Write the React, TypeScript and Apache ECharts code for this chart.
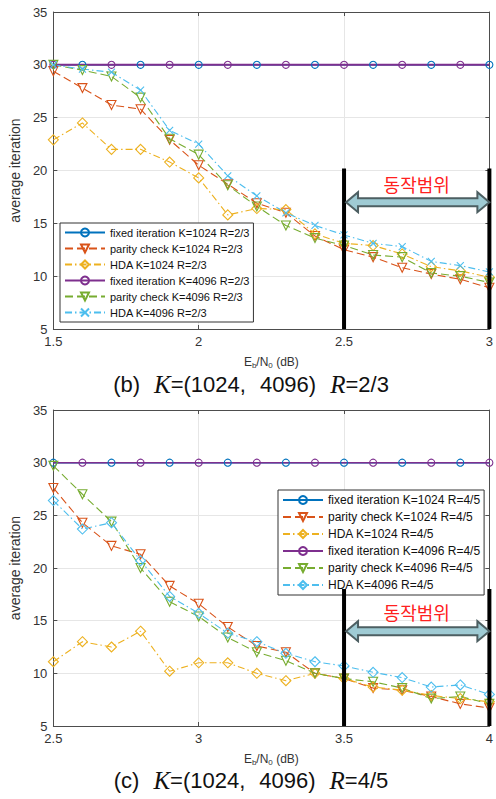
import React, { useEffect, useRef } from 'react';
import * as echarts from 'echarts';

// ---------- data ----------
const xTop = [1.5, 1.6, 1.7, 1.8, 1.9, 2.0, 2.1, 2.2, 2.3, 2.4, 2.5, 2.6, 2.7, 2.8, 2.9, 3.0];
const fixed1024Top = [30, 30, 30, 30, 30, 30, 30, 30, 30, 30, 30, 30, 30, 30, 30, 30];
const parity1024Top = [29.4, 27.8, 26.2, 25.8, 22.9, 20.5, 18.7, 16.9, 16.0, 13.8, 12.5, 11.8, 10.8, 10.2, 9.7, 8.9];
const hda1024Top = [22.9, 24.5, 22.0, 22.0, 20.8, 19.3, 15.8, 16.4, 16.3, 14.0, 13.1, 12.9, 12.1, 10.9, 10.5, 9.9];
const fixed4096Top = [30, 30, 30, 30, 30, 30, 30, 30, 30, 30, 30, 30, 30, 30, 30, 30];
const parity4096Top = [30.0, 29.5, 28.9, 26.9, 23.0, 21.5, 18.6, 16.6, 14.8, 13.6, 12.9, 12.0, 11.8, 10.3, 10.0, 9.4];
const hda4096Top = [30.0, 29.6, 29.3, 27.6, 23.8, 22.5, 19.5, 17.6, 16.0, 14.8, 13.9, 13.1, 12.8, 11.4, 11.0, 10.4];

const xBot = [2.5, 2.6, 2.7, 2.8, 2.9, 3.0, 3.1, 3.2, 3.3, 3.4, 3.5, 3.6, 3.7, 3.8, 3.9, 4.0];
const fixed1024Bot = [30, 30, 30, 30, 30, 30, 30, 30, 30, 30, 30, 30, 30, 30, 30, 30];
const parity1024Bot = [27.6, 24.3, 22.1, 21.3, 18.3, 16.6, 14.4, 12.6, 12.0, 10.0, 9.5, 8.6, 8.4, 7.8, 7.1, 6.7];
const hda1024Bot = [11.1, 13.0, 12.5, 14.0, 10.2, 11.0, 11.0, 10.0, 9.3, 10.0, 9.5, 8.7, 8.4, 7.9, 7.6, 7.3];
const fixed4096Bot = [30, 30, 30, 30, 30, 30, 30, 30, 30, 30, 30, 30, 30, 30, 30, 30];
const parity4096Bot = [29.7, 27.0, 24.4, 20.0, 16.8, 15.4, 13.4, 12.0, 11.2, 10.0, 9.5, 9.2, 8.6, 7.6, 7.8, 7.1];
const hda4096Bot = [26.4, 23.7, 24.3, 20.7, 17.3, 15.7, 13.8, 13.0, 11.9, 11.1, 10.7, 10.1, 9.6, 8.7, 8.9, 8.0];

const namesTop = [
  'fixed iteration K=1024 R=2/3',
  'parity check K=1024 R=2/3',
  'HDA K=1024 R=2/3',
  'fixed iteration K=4096 R=2/3',
  'parity check K=4096 R=2/3',
  'HDA K=4096 R=2/3',
];
const namesBot = [
  'fixed iteration K=1024 R=4/5',
  'parity check K=1024 R=4/5',
  'HDA K=1024 R=4/5',
  'fixed iteration K=4096 R=4/5',
  'parity check K=4096 R=4/5',
  'HDA K=4096 R=4/5',
];

const xRangeTop = [1.5, 3.0];
const xRangeBot = [2.5, 4.0];
const yRange = [5, 35];
const opRangeTop = [2.5, 3.0];
const opRangeBot = [3.5, 4.0];
const opLabel = '동작범위';
const captionTop = ['(b)', 'K', '=(1024,', '4096)', 'R', '=2/3'];
const captionBot = ['(c)', 'K', '=(1024,', '4096)', 'R', '=4/5'];

// ---------- styles ----------
const C = {
  blue: '#0072BD',
  red: '#D95319',
  yellow: '#EDB120',
  purple: '#7E2F8E',
  green: '#77AC30',
  cyan: '#4DBEEE',
};
const AXIS = '#4d4d4d';
const FONT = '"Liberation Sans", Arial, sans-serif';
const DASH = [8, 4];
const DASHDOT = [7, 3, 1.5, 3];
const XMARK = 'path://M0,0L10,10M0,10L10,0';

function makeSeries(
  name: string, xs: number[], ys: number[], axis: number, color: string,
  symbol: string, lineType: any, width: number, size: number, extra: any = {}
) {
  return {
    type: 'line',
    name,
    xAxisIndex: axis,
    yAxisIndex: axis,
    data: xs.map((x, i) => [x, ys[i]]),
    color,
    symbol,
    symbolSize: size,
    showSymbol: true,
    showAllSymbol: true,
    lineStyle: { color, width, type: lineType, cap: 'butt' },
    itemStyle: { color: 'rgba(255,255,255,0)', borderColor: color, borderWidth: 1.1 },
    emphasis: { disabled: true },
    ...extra,
  };
}

function altSize(parity: number, size: number) {
  return (_v: any, p: any) => (p.dataIndex % 2 === parity ? size : 0);
}

function xAxes(range: number[], grid: number, withName: boolean) {
  const common = {
    type: 'value',
    gridIndex: grid,
    min: range[0],
    max: range[1],
    interval: 0.5,
    axisLine: { show: true, onZero: false, lineStyle: { color: AXIS, width: 1 } },
    axisTick: { show: true, inside: true, length: 4, lineStyle: { color: AXIS } },
  };
  return [
    {
      ...common,
      position: 'bottom',
      axisLabel: { color: '#333', fontSize: 13, fontFamily: FONT, margin: 6 },
      splitLine: { show: true, lineStyle: { color: '#e6e6e6', width: 1 } },
      name: withName ? '{n|E}{s|b}{n|/N}{s|0}{n| (dB)}' : '',
      nameLocation: 'middle',
      nameGap: 26,
      nameTextStyle: {
        color: '#333',
        rich: {
          n: { fontSize: 12, fontFamily: FONT, color: '#333', lineHeight: 14 },
          s: { fontSize: 8, fontFamily: FONT, color: '#333', lineHeight: 8, verticalAlign: 'bottom' },
        },
      },
    },
    {
      ...common,
      position: 'top',
      axisLabel: { show: false },
      splitLine: { show: false },
    },
  ];
}

function yAxes(grid: number) {
  const common = {
    type: 'value',
    gridIndex: grid,
    min: yRange[0],
    max: yRange[1],
    interval: 5,
    axisLine: { show: true, onZero: false, lineStyle: { color: AXIS, width: 1 } },
    axisTick: { show: true, inside: true, length: 4, lineStyle: { color: AXIS } },
  };
  return [
    {
      ...common,
      position: 'left',
      axisLabel: { color: '#333', fontSize: 13, fontFamily: FONT, margin: 6 },
      splitLine: { show: true, lineStyle: { color: '#e6e6e6', width: 1 } },
      name: 'average iteration',
      nameLocation: 'middle',
      nameGap: 27,
      nameTextStyle: { color: '#333', fontSize: 14, fontFamily: FONT },
    },
    {
      ...common,
      position: 'right',
      axisLabel: { show: false },
      splitLine: { show: false },
    },
  ];
}

function legendFor(names: string[], left: number, top: number, fontSize: number) {
  return {
    data: names,
    orient: 'vertical',
    left,
    top,
    itemWidth: 40,
    itemHeight: 10,
    itemGap: 5,
    padding: [4, 4, 4, 4],
    backgroundColor: '#fff',
    borderColor: '#333',
    borderWidth: 1,
    borderRadius: 0,
    selectedMode: false,
    textStyle: { fontSize, fontFamily: FONT, color: '#111' },
    z: 20,
  };
}

function captionRich(parts: string[]) {
  return `{a|${parts[0]}}{g| }{k|${parts[1]}}{a|${parts[2]}}{g| }{a|${parts[3]}}{g| }{k|${parts[4]}}{a|${parts[5]}}`;
}

export default function App() {
  const ref = useRef<HTMLDivElement>(null);

  useEffect(() => {
    if (!ref.current) return;
    const chart = echarts.init(ref.current, undefined, { renderer: 'svg' });

    const series: any[] = [
      makeSeries(namesTop[0], xTop, fixed1024Top, 0, C.blue, 'circle', 'solid', 1.5, 7, { symbolSize: altSize(1, 7) }),
      makeSeries(namesTop[1], xTop, parity1024Top, 0, C.red, 'triangle', DASH, 1.1, 9, { symbolRotate: 180 }),
      makeSeries(namesTop[2], xTop, hda1024Top, 0, C.yellow, 'diamond', DASHDOT, 1.1, 10),
      makeSeries(namesTop[3], xTop, fixed4096Top, 0, C.purple, 'circle', 'solid', 2, 7, { symbolSize: altSize(0, 7) }),
      makeSeries(namesTop[4], xTop, parity4096Top, 0, C.green, 'triangle', DASH, 1.1, 9, { symbolRotate: 180 }),
      makeSeries(namesTop[5], xTop, hda4096Top, 0, C.cyan, XMARK, DASHDOT, 1.1, 7),

      makeSeries(namesBot[0], xBot, fixed1024Bot, 2, C.blue, 'circle', 'solid', 1.5, 7, { symbolSize: altSize(0, 7) }),
      makeSeries(namesBot[1], xBot, parity1024Bot, 2, C.red, 'triangle', DASH, 1.1, 9, { symbolRotate: 180 }),
      makeSeries(namesBot[2], xBot, hda1024Bot, 2, C.yellow, 'diamond', DASHDOT, 1.1, 10),
      makeSeries(namesBot[3], xBot, fixed4096Bot, 2, C.purple, 'circle', 'solid', 1.5, 7, { symbolSize: altSize(1, 7) }),
      makeSeries(namesBot[4], xBot, parity4096Bot, 2, C.green, 'triangle', DASH, 1.1, 9, { symbolRotate: 180 }),
      makeSeries(namesBot[5], xBot, hda4096Bot, 2, C.cyan, 'diamond', DASHDOT, 1.1, 10),
    ];

    chart.setOption({
      animation: false,
      backgroundColor: '#fff',
      grid: [
        { left: 49, top: 12, width: 443, height: 317, containLabel: false },
        { left: 50, top: 410, width: 442, height: 316, containLabel: false },
      ],
      xAxis: [...xAxes(xRangeTop, 0, true), ...xAxes(xRangeBot, 1, true)],
      yAxis: [...yAxes(0), ...yAxes(1)],
      legend: [legendFor(namesTop, 60, 223, 11), legendFor(namesBot, 278, 490, 12)],
      series,
    });

    const px = (ax: number, x: number, y: number) =>
      chart.convertToPixel({ xAxisIndex: ax, yAxisIndex: ax } as any, [x, y]) as number[];

    const overlay = (ax: number, range: number[], lineTopVal: number, arrowVal: number, textVal: number) => {
      const a = px(ax, range[0], yRange[0]);
      const b = px(ax, range[1], yRange[0]);
      const t = px(ax, range[0], lineTopVal);
      const ar = px(ax, range[0], arrowVal);
      const tx = px(ax, (range[0] + range[1]) / 2, textVal);
      const x0 = a[0] + 2;
      const x1 = b[0];
      const yc = ar[1];
      const hh = 10, sh = 4, hl = 12;
      const pts = [
        [x0, yc], [x0 + hl, yc - hh], [x0 + hl, yc - sh], [x1 - hl, yc - sh], [x1 - hl, yc - hh],
        [x1, yc], [x1 - hl, yc + hh], [x1 - hl, yc + sh], [x0 + hl, yc + sh], [x0 + hl, yc + hh],
      ];
      return [
        { type: 'line', z: 100, shape: { x1: a[0], y1: t[1], x2: a[0], y2: a[1] }, style: { stroke: '#000', lineWidth: 4 } },
        { type: 'line', z: 100, shape: { x1: b[0], y1: t[1], x2: b[0], y2: b[1] }, style: { stroke: '#000', lineWidth: 4 } },
        { type: 'polygon', z: 101, shape: { points: pts }, style: { fill: '#9fcbd4', stroke: '#4d5f62', lineWidth: 2 } },
        {
          type: 'text', z: 101, x: (a[0] + b[0]) / 2, y: tx[1],
          style: { text: opLabel, fill: '#ff2020', fontSize: 18, fontFamily: '"Noto Sans CJK KR", sans-serif', align: 'center', verticalAlign: 'middle' },
        },
      ];
    };

    const rich = {
      a: { fontSize: 22, fontFamily: FONT, fill: '#111', color: '#111', lineHeight: 24 },
      g: { fontSize: 22, fontFamily: FONT, width: 14, lineHeight: 24 },
      k: { fontSize: 25, fontFamily: '"Liberation Serif", "Times New Roman", serif', fontStyle: 'italic', color: '#111', fill: '#111', lineHeight: 24 },
    };

    chart.setOption({
      graphic: [
        ...overlay(0, opRangeTop, 20.2, 17.0, 18.7),
        ...overlay(2, opRangeBot, 18.0, 14.0, 15.8),
        { type: 'text', z: 50, x: 251, y: 384, style: { text: captionRich(captionTop), rich, align: 'center', verticalAlign: 'middle' } },
        { type: 'text', z: 50, x: 251, y: 780, style: { text: captionRich(captionBot), rich, align: 'center', verticalAlign: 'middle' } },
      ],
    });

    return () => chart.dispose();
  }, []);

  return <div ref={ref} style={{ position: 'absolute', left: 0, top: 0, width: 496, height: 799 }} />;
}
